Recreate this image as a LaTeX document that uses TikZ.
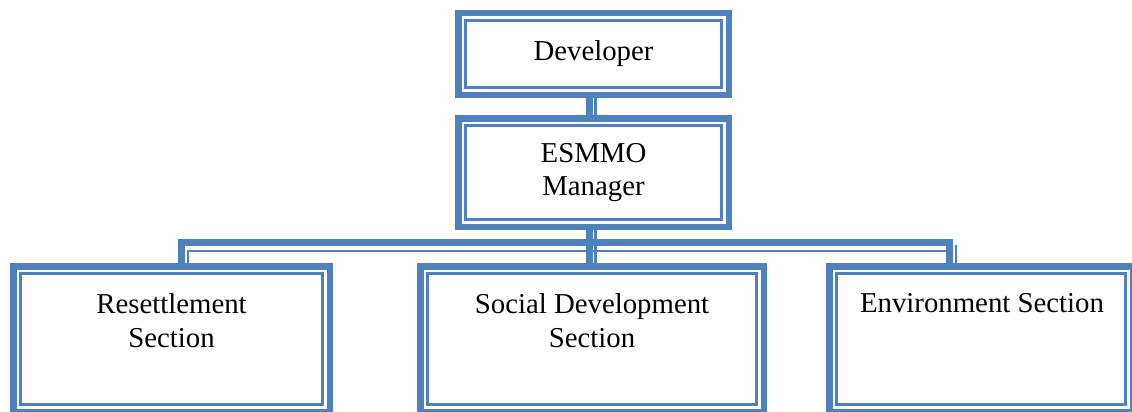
\documentclass[tikz,border=0pt]{standalone}
\usepackage{fontspec}
\setmainfont{Liberation Serif}
\usetikzlibrary{calc}
\definecolor{wblue}{RGB}{79,129,189}
\newcommand\boxfont{\fontsize{28.8}{33.5}\selectfont}
\begin{document}
\begin{tikzpicture}[x=1pt,y=-1pt,
  box/.style={draw=wblue, line width=6.5pt, fill=white, inner sep=0pt, font=\boxfont, align=center},
  inbox/.style={draw=wblue, line width=2.5pt},
  cthick/.style={draw=wblue, line width=6.5pt},
  cthin/.style={draw=wblue, line width=2.5pt},
  txt/.style={inner sep=0pt, font=\boxfont, align=center, anchor=north}]
\useasboundingbox (0,0) rectangle (1132,412);
% boxes
\node[box, minimum width=270.5pt, minimum height=81.5pt] (dev) at (593.5,54) {\raisebox{-1.5pt}{Developer}};
\node[box, minimum width=270.5pt, minimum height=108.5pt] (esm) at (593.5,172.5)
  {\raisebox{-2.5pt}{\begin{tabular}{@{}c@{}}ESMMO\\Manager\end{tabular}}};
\node[box, minimum width=316.5pt, minimum height=145.5pt] (res) at (171.5,339) {};
\node[box, minimum width=343.5pt, minimum height=145.5pt] (soc) at (592,339) {};
\node[box, minimum width=303.5pt, minimum height=145.5pt] (env) at (981,339) {};
\foreach \n in {dev,esm,res,soc,env}
  \draw[inbox] ($(\n.north west)+(10.5,10.5)$) rectangle ($(\n.south east)+(-10.5,-10.5)$);
% texts of the lower boxes
\node[txt] (rest) at ($(res.north)+(0,30.5)$) {Resettlement\\Section};
\node[txt] (soct) at ($(soc.north)+(0,30.5)$) {Social Development\\Section};
\node[txt] (envt) at ($(env.north)+(1,30.5)$) {Environment Section};
% junction points of the bus
\coordinate (jl) at (185,246.7);
\coordinate (jr) at (952.7,246.7);
% Developer -> ESMMO
\draw[cthick] ($(dev.south)+(-4,0)$) -- ($(esm.north)+(-4,0)$);
\draw[cthin] ($(dev.south)+(2.2,0)$) -- ($(esm.north)+(2.2,0)$);
% ESMMO -> Resettlement
\draw[cthick] ($(esm.south)+(-4,0)$) |- ($(jl)+(-3.5,-4.2)$) -- ($(jl |- res.north)+(-3.5,0)$);
\draw[cthin] ($(esm.south)+(2.2,0)$) |- ($(jl)+(3,4.3)$) -- ($(jl |- res.north)+(3,0)$);
% ESMMO -> Social Development
\draw[cthick] ($(esm.south)+(-4,0)$) -- ($(esm.south |- soc.north)+(-4,0)$);
\draw[cthin] ($(esm.south)+(2.2,0)$) -- ($(esm.south |- soc.north)+(2.2,0)$);
% ESMMO -> Environment
\draw[cthick] ($(esm.south)+(-4,0)$) |- ($(jr)+(-3.2,-4.2)$) -- ($(jr |- env.north)+(-3.2,0)$);
\draw[cthin] ($(esm.south)+(2.2,0)$) |- ($(jr)+(-6,4.3)$)
  ($(jr)+(3.3,-1.7)$) -- ($(jr |- env.north)+(3.3,0)$);
\end{tikzpicture}
\end{document}
